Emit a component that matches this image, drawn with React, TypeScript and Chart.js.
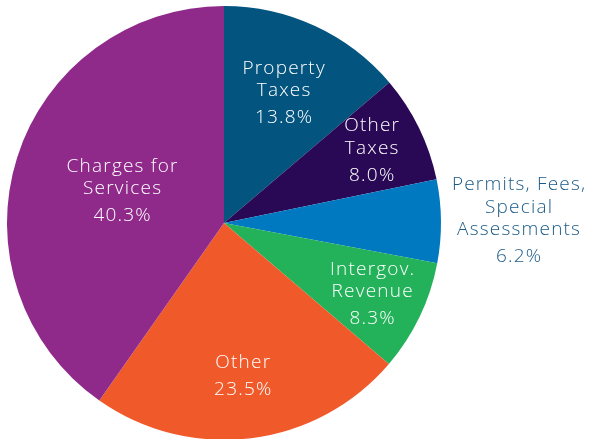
import React, { useEffect, useRef } from "react";
import { Chart, registerables } from "chart.js";

Chart.register(...registerables);

const categories = [
  ["Property", "Taxes"],
  ["Other", "Taxes"],
  ["Permits, Fees,", "Special", "Assessments"],
  ["Intergov.", "Revenue"],
  ["Other"],
  ["Charges for", "Services"],
];
const shares = [13.8, 8.0, 6.2, 8.3, 23.5, 40.3];
const colors = ["#03547F", "#290955", "#0079C1", "#23B15A", "#F05A2B", "#8F2A8B"];
const labelColors = ["#ffffff", "#ffffff", "#1B5A86", "#ffffff", "#ffffff", "#ffffff"];
const labelRadius = [0.66, 0.76, 1.36, 0.76, 0.71, 0.49];

const labelPlugin = {
  id: "sliceLabels",
  afterDatasetsDraw(chart: any) {
    const ctx = chart.ctx;
    const meta = chart.getDatasetMeta(0);
    ctx.save();
    ctx.font = "300 19px 'Open Sans', sans-serif";
    try {
      (ctx as any).letterSpacing = "1.2px";
    } catch (e) {}
    ctx.textAlign = "center";
    ctx.textBaseline = "middle";
    meta.data.forEach((arc: any, i: number) => {
      const { x, y, startAngle, endAngle, outerRadius } = arc.getProps(
        ["x", "y", "startAngle", "endAngle", "outerRadius"],
        true
      );
      const mid = (startAngle + endAngle) / 2;
      const r = outerRadius * labelRadius[i];
      const cx = x + Math.cos(mid) * r;
      const cy = y + Math.sin(mid) * r;
      const lines = [...categories[i], shares[i].toFixed(1) + "%"];
      const n = lines.length;
      const pitch = 22.5;
      const pctGap = 27;
      const total = (n - 2) * pitch + pctGap;
      let yy = cy - total / 2;
      ctx.fillStyle = labelColors[i];
      lines.forEach((t, k) => {
        ctx.fillText(t, cx, yy);
        if (k < n - 2) yy += pitch;
        else yy += pctGap;
      });
    });
    ctx.restore();
  },
};

export default function App() {
  const ref = useRef<HTMLCanvasElement>(null);
  useEffect(() => {
    document.body.style.margin = "0";
    const chart = new Chart(ref.current!, {
      type: "pie",
      data: {
        labels: categories.map((c) => c.join(" ")),
        datasets: [
          {
            data: shares,
            backgroundColor: colors,
            borderWidth: 0,
          },
        ],
      },
      options: {
        animation: false,
        responsive: false,
        maintainAspectRatio: false,
        layout: { padding: { left: 7, right: 157, top: 6, bottom: 6 } },
        plugins: {
          legend: { display: false },
          tooltip: { enabled: false },
        },
      },
      plugins: [labelPlugin],
    });
    return () => chart.destroy();
  }, []);
  return (
    <div style={{ width: 598, height: 439, overflow: "hidden", background: "#fff" }}>
      <canvas ref={ref} width={598} height={446} style={{ display: "block" }} />
    </div>
  );
}
